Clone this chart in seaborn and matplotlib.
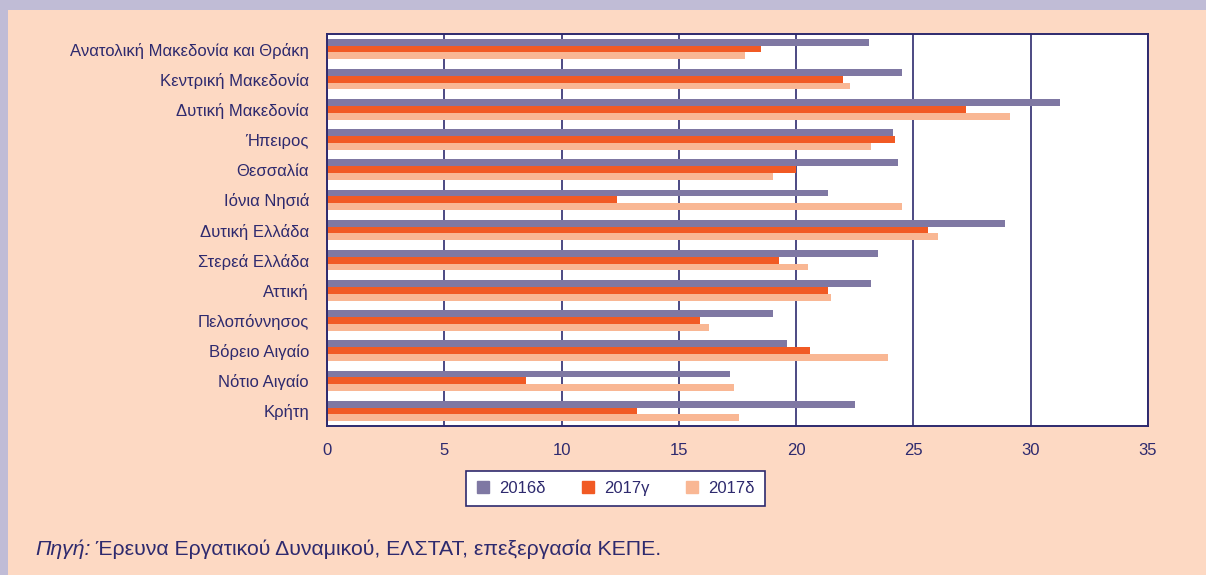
import numpy as np
import pandas as pd
import matplotlib.pyplot as plt
import seaborn as sns
from matplotlib.patches import Rectangle
from matplotlib.lines import Line2D

# data
regions = ["Ανατολική Μακεδονία και Θράκη", "Κεντρική Μακεδονία", "Δυτική Μακεδονία",
           "Ήπειρος", "Θεσσαλία", "Ιόνια Νησιά", "Δυτική Ελλάδα", "Στερεά Ελλάδα",
           "Αττική", "Πελοπόννησος", "Βόρειο Αιγαίο", "Νότιο Αιγαίο", "Κρήτη"]
series = ["2016δ", "2017γ", "2017δ"]
v2016d = [23.1, 24.5, 31.25, 24.15, 24.35, 21.35, 28.9, 23.5, 23.2, 19.0, 19.6, 17.2, 22.5]
v2017g = [18.5, 22.0, 27.25, 24.2, 20.0, 12.35, 25.6, 19.25, 21.35, 15.9, 20.6, 8.5, 13.2]
v2017d = [17.8, 22.3, 29.1, 23.2, 19.0, 24.5, 26.05, 20.5, 21.5, 16.3, 23.9, 17.35, 17.55]
xticks = [0, 5, 10, 15, 20, 25, 30, 35]

df = pd.DataFrame({
    "region": regions * 3,
    "series": [series[0]] * 13 + [series[1]] * 13 + [series[2]] * 13,
    "value": v2016d + v2017g + v2017d,
})

navy = "#2E2A6E"
peach_bg = "#FDD9C3"
lavender = "#C0BCD6"
colors = ["#7F78A3", "#F15A24", "#F9B794"]

sns.set_style("white")
plt.rcParams['font.family'] = ['Liberation Sans', 'DejaVu Sans']

fig = plt.figure(figsize=(12.06, 5.75), dpi=100)
fig.patch.set_facecolor(lavender)
fig.add_artist(Rectangle((8 / 1206, 0), 1, 1 - 10 / 575, transform=fig.transFigure,
                         facecolor=peach_bg, edgecolor="none", zorder=0))

ax = fig.add_axes([327 / 1206, 1 - 426 / 575, (1148 - 327) / 1206, (426 - 34) / 575])
ax.set_facecolor("white")
sns.barplot(data=df, y="region", x="value", hue="series", orient="h",
            palette=colors, saturation=1, width=0.68, linewidth=0,
            legend=False, ax=ax)

ax.set_xlim(0, 35)
ax.set_ylim(len(regions) - 0.5, -0.5)
ax.set_xticks(xticks)
ax.set_xticklabels([str(t) for t in xticks])
ax.set_xlabel("")
ax.set_ylabel("")
ax.set_axisbelow(True)
ax.grid(axis="x", color=navy, linewidth=1.2)
ax.grid(axis="y", visible=False)

# category boundaries as ticks on y
ax.set_yticks(np.arange(len(regions)))
ax.set_yticklabels(regions)
ax.set_yticks(np.arange(len(regions) + 1) - 0.5, minor=True)
ax.tick_params(axis="y", which="major", length=0, pad=13, labelsize=12, labelcolor=navy)
ax.tick_params(axis="y", which="minor", length=6, width=1.2, color=navy, direction="out")
ax.tick_params(axis="x", which="major", length=6, width=1.2, color=navy, direction="out",
               labelsize=12, labelcolor=navy, pad=6)
for s in ax.spines.values():
    s.set_color(navy)
    s.set_linewidth(1.4)

handles = [Line2D([], [], marker="s", linestyle="none", markersize=9,
                  markerfacecolor=c, markeredgecolor=c) for c in colors]
leg = fig.legend(handles, series, loc="center", bbox_to_anchor=(615.5 / 1206, 1 - 488.5 / 575),
                 ncol=3, frameon=True, fancybox=False, edgecolor=navy, facecolor="white",
                 framealpha=1, fontsize=12, handlelength=0.8, handletextpad=0.6,
                 columnspacing=2.1, borderpad=0.6, borderaxespad=0)
leg.get_frame().set_linewidth(1.2)
for t in leg.get_texts():
    t.set_color(navy)

t1 = fig.text(35 / 1206, 1 - 549 / 575, "Πηγή:", style="italic", fontsize=15.3,
              color=navy, va="center", ha="left")
ax.annotate(" Έρευνα Εργατικού Δυναμικού, ΕΛΣΤΑΤ, επεξεργασία ΚΕΠΕ.", xy=(1, 0.5),
            xycoords=t1, va="center", ha="left", fontsize=15.3, color=navy,
            annotation_clip=False)

fig.savefig("out.png", dpi=100, facecolor=fig.get_facecolor())
